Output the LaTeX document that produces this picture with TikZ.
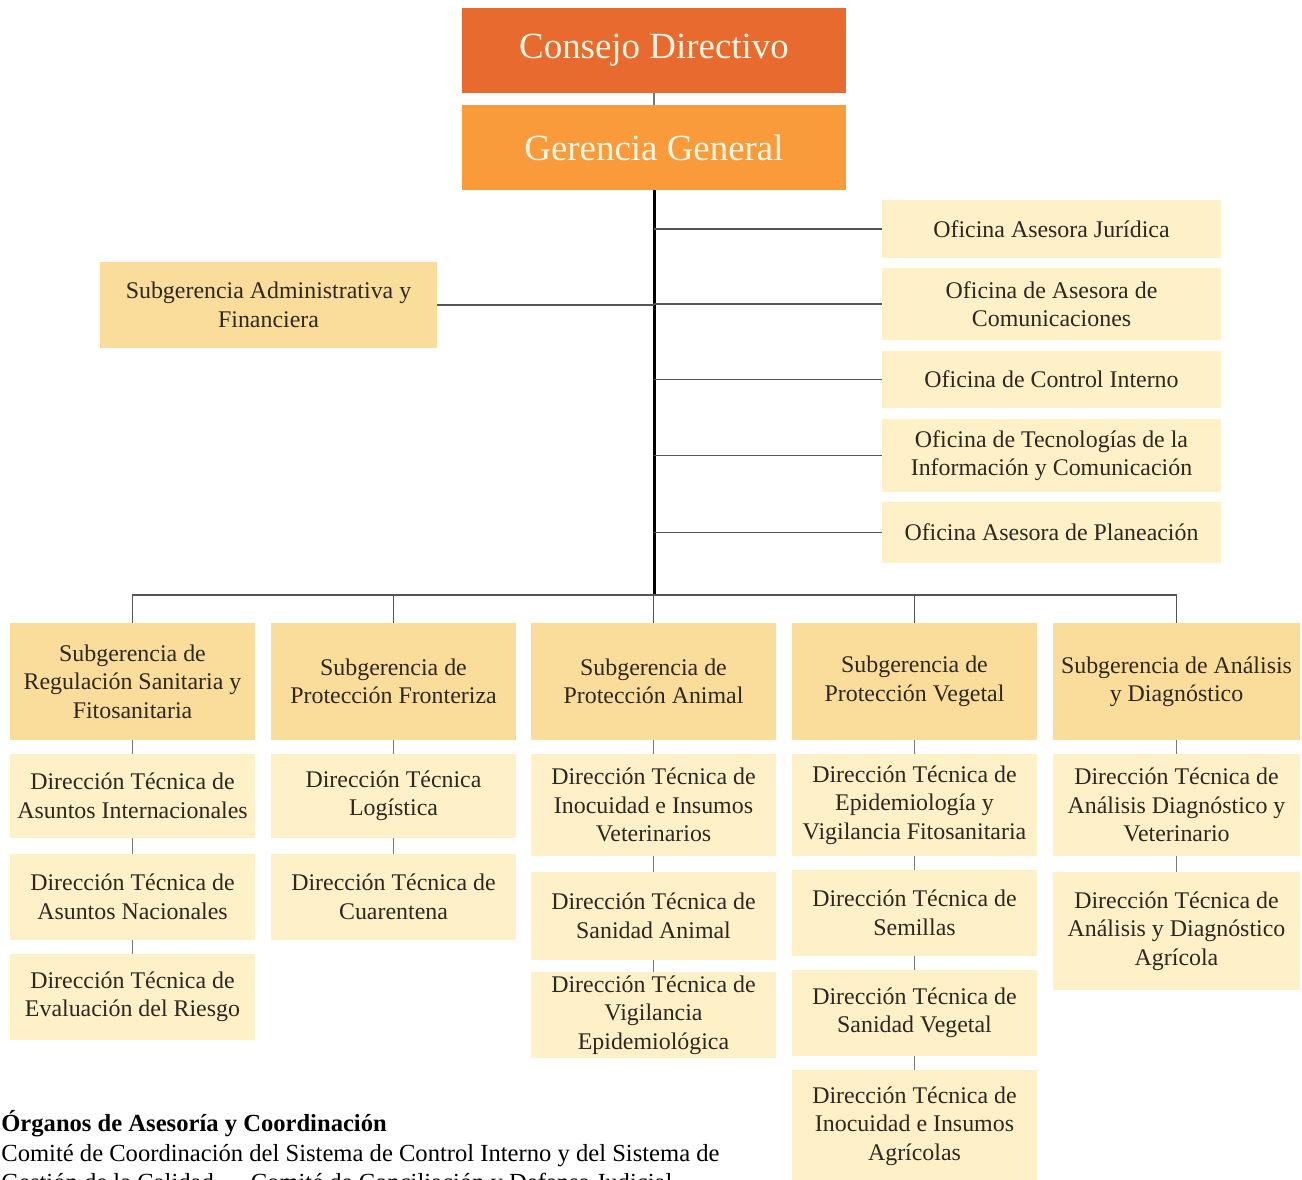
\documentclass[tikz,border=0pt]{standalone}
\usepackage{fontspec}
\setmainfont{Liberation Serif}
\begin{document}
\begin{tikzpicture}[x=0.2mm,y=-0.2mm,
  box/.style={rectangle, inner sep=0pt, align=center, text=inktext, font=\fontsize{13.6}{16.2}\selectfont},
  topbox/.style={box, minimum width=76.8mm, minimum height=17mm, text=cream, font=\fontsize{21}{25}\selectfont},
  subbox/.style={box, fill=subfill, minimum width=49mm, minimum height=#1},
  dirbox/.style={box, fill=dirfill, minimum width=49mm, minimum height=#1},
  officebox/.style={box, fill=dirfill, minimum width=67.8mm, minimum height=#1},
  trunk/.style={draw=black, line width=1.7pt},
  branch/.style={draw=linegray, line width=1.1pt},
  tickline/.style={draw=tickgray, line width=0.7pt},
  note/.style={anchor=base west, inner sep=0pt, text=black, font=\fontsize{14}{16.5}\selectfont}
]

% Colors
\definecolor{consejo}{RGB}{232,106,46}  % dark orange
\definecolor{gerencia}{RGB}{249,155,59} % orange
\definecolor{subfill}{RGB}{251,221,155} % yellow
\definecolor{dirfill}{RGB}{254,240,199} % pale yellow
\definecolor{cream}{RGB}{255,246,228}
\definecolor{inktext}{RGB}{45,40,32}
\definecolor{linegray}{RGB}{85,85,85}
\definecolor{tickgray}{RGB}{120,120,120}

\useasboundingbox (0,0) rectangle (1302,1179);
\clip (0,0) rectangle (1302,1179);

% === TOP ===
\node[topbox, fill=consejo] (cd) at (654,50.5) {Consejo Directivo};
\node[topbox, fill=gerencia] (gg) at (654,147.5) {Gerencia General};
\draw[tickline, line width=1pt] (cd.south) -- (gg.south |- gg.north);

% === OFFICES ===
\node[officebox=11.6mm] (oaj) at (1051.5,229) {Oficina Asesora Jurídica};
\node[officebox=14.4mm] (oac) at (1051.5,304) {Oficina de Asesora de\\Comunicaciones};
\node[officebox=11.4mm] (oci) at (1051.5,379.5) {Oficina de Control Interno};
\node[officebox=14.6mm] (oti) at (1051.5,455.5) {Oficina de Tecnologías de la\\Información y Comunicación};
\node[officebox=12.2mm] (oap) at (1051.5,532.5) {Oficina Asesora de Planeación};
\node[box, fill=subfill, minimum width=67.4mm, minimum height=17.2mm] (saf) at (268.5,305) {Subgerencia Administrativa y\\Financiera};

% === SUBGERENCIAS ===
\node[subbox=23.4mm] (s1) at (132.5,681.5) {Subgerencia de\\Regulación Sanitaria y\\Fitosanitaria};
\node[subbox=23.4mm] (s2) at (393.5,681.5) {Subgerencia de\\Protección Fronteriza};
\node[subbox=23.4mm] (s3) at (653.5,681.5) {Subgerencia de\\Protección Animal};
\node[subbox=23.4mm] (s4) at (914.5,681.5) {Subgerencia de\\Protección Vegetal};
\node[subbox=23.4mm, minimum width=49.4mm] (s5) at (1176.5,681.5) {Subgerencia de Análisis\\y Diagnóstico};

% === DIRECCIONES ===
\node[dirbox=16.8mm] (d11) at (132.5,796) {Dirección Técnica de\\Asuntos Internacionales};
\node[dirbox=17.2mm] (d12) at (132.5,897) {Dirección Técnica de\\Asuntos Nacionales};
\node[dirbox=17.2mm] (d13) at (132.5,997) {Dirección Técnica de\\Evaluación del Riesgo};

\node[dirbox=16.8mm] (d21) at (393.5,796) {Dirección Técnica\\Logística};
\node[dirbox=17.2mm] (d22) at (393.5,897) {Dirección Técnica de\\Cuarentena};

\node[dirbox=20.4mm] (d31) at (653.5,805) {Dirección Técnica de\\Inocuidad e Insumos\\Veterinarios};
\node[dirbox=17.6mm] (d32) at (653.5,916) {Dirección Técnica de\\Sanidad Animal};
\node[dirbox=17.2mm] (d33) at (653.5,1015) {Dirección Técnica de\\Vigilancia\\Epidemiológica};

\node[dirbox=20.4mm] (d41) at (914.5,805) {Dirección Técnica de\\Epidemiología y\\Vigilancia Fitosanitaria};
\node[dirbox=17.2mm] (d42) at (914.5,913) {Dirección Técnica de\\Semillas};
\node[dirbox=17.2mm] (d43) at (914.5,1013) {Dirección Técnica de\\Sanidad Vegetal};
\node[dirbox=22.4mm] (d44) at (914.5,1126) {Dirección Técnica de\\Inocuidad e Insumos\\Agrícolas};

\node[dirbox=20.4mm, minimum width=49.4mm] (d51) at (1176.5,805) {Dirección Técnica de\\Análisis Diagnóstico y\\Veterinario};
\node[dirbox=23.6mm, minimum width=49.4mm] (d52) at (1176.5,931) {Dirección Técnica de\\Análisis y Diagnóstico\\Agrícola};

% === CONNECTORS ===
\coordinate (bus) at (654,595);
\draw[trunk] (gg.south) -- (bus);
\foreach \n in {oaj,oac,oci,oti,oap}
  \draw[branch] (gg.south |- \n.west) -- (\n.west);
\draw[branch] (saf.east) -- (gg.south |- saf.east);
\draw[branch] (s1.north) |- (s5.north |- bus) -- (s5.north);
\foreach \n in {s2,s3,s4}
  \draw[branch] (\n.north) -- (\n.north |- bus);

\foreach \a/\b in {s1/d11,d11/d12,d12/d13,s2/d21,d21/d22,s3/d31,d31/d32,d32/d33,
                   s4/d41,d41/d42,d42/d43,d43/d44,s5/d51,d51/d52}
  \draw[tickline] (\a.south) -- (\b.north);

% === NOTES ===
\node[note, font=\fontsize{14}{16.5}\selectfont\bfseries] (org) at (1,1131) {Órganos de Asesoría y Coordinación};
\node[note] (com1) at (1,1161) {Comité de Coordinación del Sistema de Control Interno y del Sistema de};
\node[note] (com2) at (1,1190) {Gestión de la Calidad \ – \ Comité de Conciliación y Defensa Judicial};

\end{tikzpicture}
\end{document}
